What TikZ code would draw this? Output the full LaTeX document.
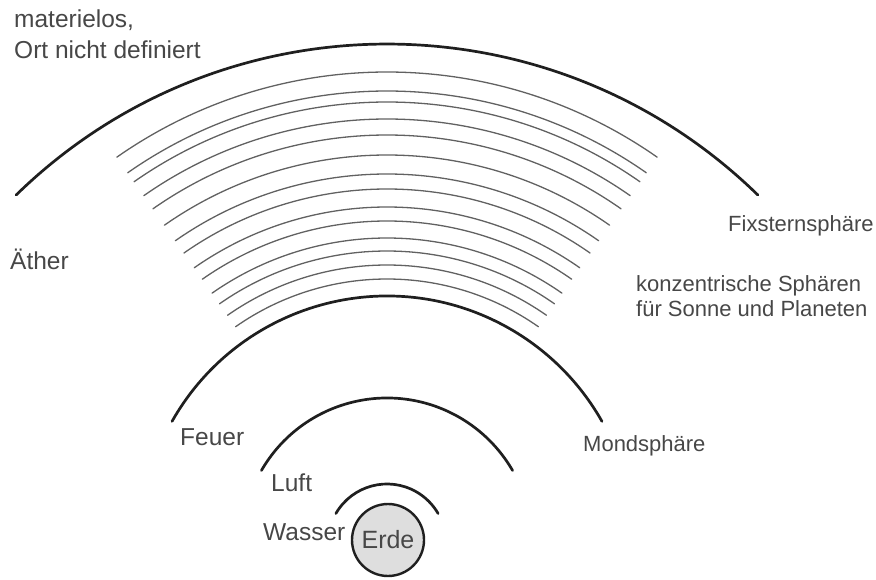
\documentclass[tikz,border=0pt]{standalone}
\usepackage{fontspec}
\setmainfont{Liberation Sans}
\usetikzlibrary{calc}

\begin{document}
\begin{tikzpicture}[
  x=1pt, y=1pt,
  sphere/.style={line width=2.7pt, black!88, line cap=round},
  layer/.style={line width=1.3pt, black!62, line cap=round},
  lbl/.style={font=\fontsize{24.5}{31}\selectfont, text=black!72,
              inner sep=0pt, anchor=base west, align=left},
  rlbl/.style={lbl, font=\fontsize{22}{25}\selectfont}
]
  \useasboundingbox (0,0) rectangle (876,579);
  \coordinate (C) at (387,36);
  \coordinate (Cfix) at (387,4);

  % Fixsternsphaere
  \draw[sphere] ($(Cfix)+(134.3:531)$) arc[start angle=134.3, end angle=45.7, radius=531];

  % concentric spheres for sun and planets
  \foreach \r in {471,452,441,424,408,388,369,354,336,322,305,292,278,264}
    \draw[layer] ($(C)+(125:\r)$) arc[start angle=125, end angle=55, radius=\r];

  % Mondsphaere, Feuer, Luft, Wasser
  \draw[sphere] ($(C)+(150.5:247)$) arc[start angle=150.5, end angle=29.5, radius=247];
  \draw[sphere] ($(C)+(150:145)$) arc[start angle=150, end angle=30, radius=145];
  \draw[sphere] ($(C)+(150:59)$) arc[start angle=150, end angle=30, radius=59];

  % Erde
  \node[circle, draw=black!88, fill=black!13, line width=2.4pt, minimum size=72pt,
        inner sep=0pt, text=black!72, font=\fontsize{25}{30}\selectfont] (erde)
        at (388,39) {Erde};

  % labels
  \node[lbl] (materie) at (14,520) {materielos,\\Ort nicht definiert};
  \node[lbl] (aether)  at (10,309) {Äther};
  \node[rlbl] (fix)    at (728,347.3) {Fixsternsphäre};
  \node[rlbl] (planet) at (636,262.3) {konzentrische Sphären\\für Sonne und Planeten};
  \node[rlbl] (mond)   at (583,128) {Mondsphäre};
  \node[lbl] (feuer)   at (180,134) {Feuer};
  \node[lbl] (luft)    at (271,87.3) {Luft};
  \node[lbl] (wasser)  at (263,39) {Wasser};
\end{tikzpicture}
\end{document}
